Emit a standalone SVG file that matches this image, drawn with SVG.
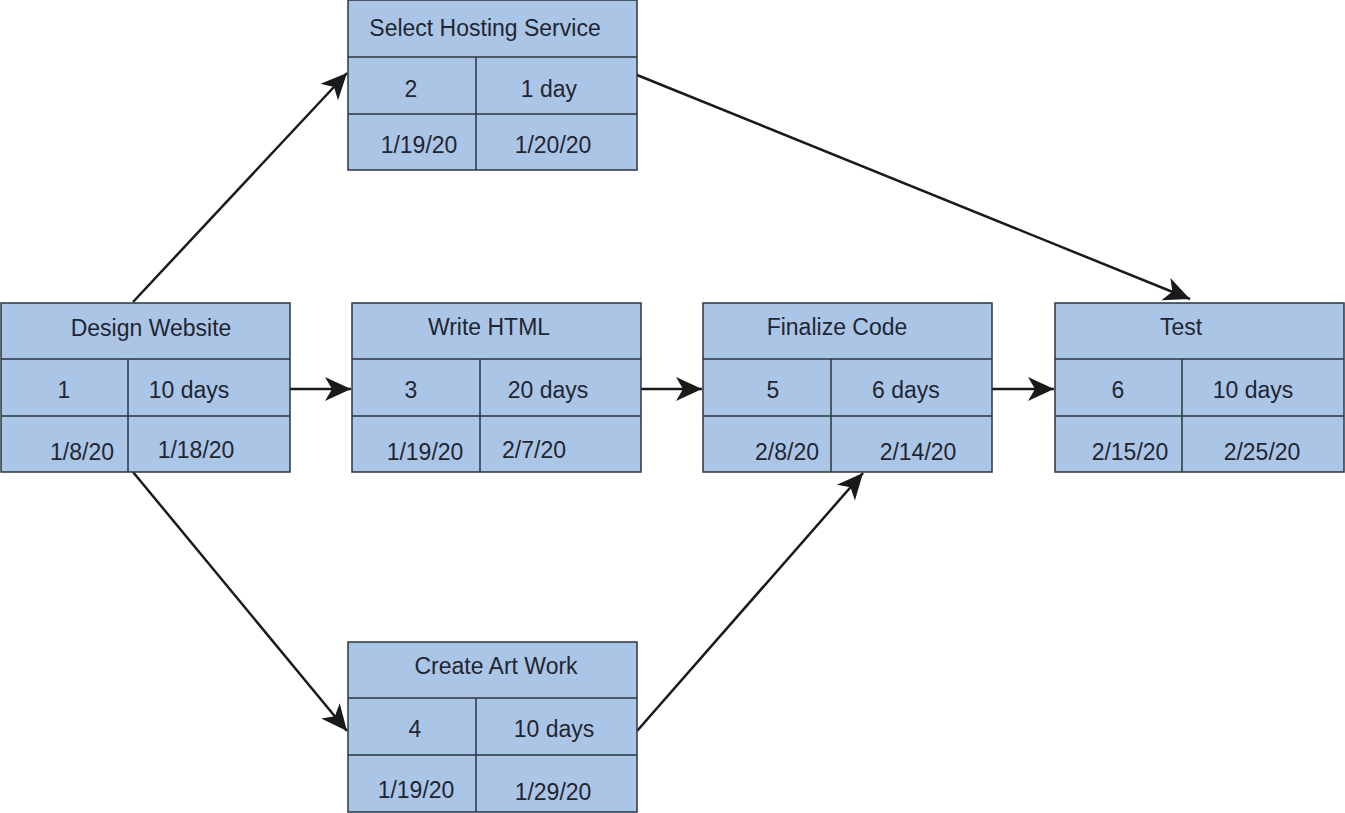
<svg xmlns="http://www.w3.org/2000/svg" width="1345" height="813" viewBox="0 0 1345 813">
<style>
.box{fill:#abc5e7;stroke:#2b3440;stroke-width:1.5}
.ln{stroke:#2b3440;stroke-width:1.5;fill:none}
text{font-family:"Liberation Sans",Arial,sans-serif;font-size:23px;fill:#1f2631;text-anchor:middle}
.c{stroke:#1a1a1a;stroke-width:2.5;fill:none;marker-end:url(#ah)}
</style>
<defs>
<marker id="ah" markerUnits="userSpaceOnUse" markerWidth="32" markerHeight="32" viewBox="-28 -14 32 28" refX="0" refY="0" orient="auto">
<path d="M0,0 L-26,-12 L-19,0 L-26,12 Z" fill="#1a1a1a"/>
</marker>
</defs>
<rect width="1345" height="813" fill="#fff"/>
<g id="connectors">
<line class="c" x1="133" y1="302" x2="347" y2="73"/>
<line class="c" x1="637" y1="75" x2="1190" y2="299"/>
<line class="c" x1="290" y1="389" x2="351" y2="389"/>
<line class="c" x1="641" y1="389" x2="702" y2="389"/>
<line class="c" x1="992" y1="389" x2="1054" y2="389"/>
<line class="c" x1="133" y1="472" x2="347" y2="731"/>
<line class="c" x1="637" y1="731" x2="863" y2="473"/>
</g>
<g id="n2">
<rect class="box" x="348" y="0" width="289" height="170"/>
<path class="ln" d="M348,57H637M348,114H637M476,57V170"/>
<text x="485" y="36">Select Hosting Service</text>
<text x="411" y="97">2</text><text x="549" y="97">1 day</text>
<text x="419" y="153">1/19/20</text><text x="553" y="153">1/20/20</text>
</g>
<g id="n1">
<rect class="box" x="1" y="303" width="289" height="169"/>
<path class="ln" d="M1,359H290M1,416H290M128,359V472"/>
<text x="151" y="336">Design Website</text>
<text x="64" y="398">1</text><text x="189" y="398">10 days</text>
<text x="82" y="460">1/8/20</text><text x="196" y="458">1/18/20</text>
</g>
<g id="n3">
<rect class="box" x="352" y="303" width="289" height="169"/>
<path class="ln" d="M352,359H641M352,416H641M480,359V472"/>
<text x="489" y="335">Write HTML</text>
<text x="411" y="398">3</text><text x="548" y="398">20 days</text>
<text x="425" y="460">1/19/20</text><text x="534" y="458">2/7/20</text>
</g>
<g id="n5">
<rect class="box" x="703" y="303" width="289" height="169"/>
<path class="ln" d="M703,359H992M703,416H992M831,359V472"/>
<text x="837" y="335">Finalize Code</text>
<text x="773" y="398">5</text><text x="906" y="398">6 days</text>
<text x="787" y="460">2/8/20</text><text x="918" y="460">2/14/20</text>
</g>
<g id="n6">
<rect class="box" x="1055" y="303" width="289" height="169"/>
<path class="ln" d="M1055,359H1344M1055,416H1344M1182,359V472"/>
<text x="1181" y="335">Test</text>
<text x="1118" y="398">6</text><text x="1253" y="398">10 days</text>
<text x="1130" y="460">2/15/20</text><text x="1262" y="460">2/25/20</text>
</g>
<g id="n4">
<rect class="box" x="348" y="642" width="289" height="170"/>
<path class="ln" d="M348,698H637M348,755H637M476,698V812"/>
<text x="496" y="674">Create Art Work</text>
<text x="415" y="737">4</text><text x="554" y="737">10 days</text>
<text x="416" y="798">1/19/20</text><text x="553" y="800">1/29/20</text>
</g>
</svg>
